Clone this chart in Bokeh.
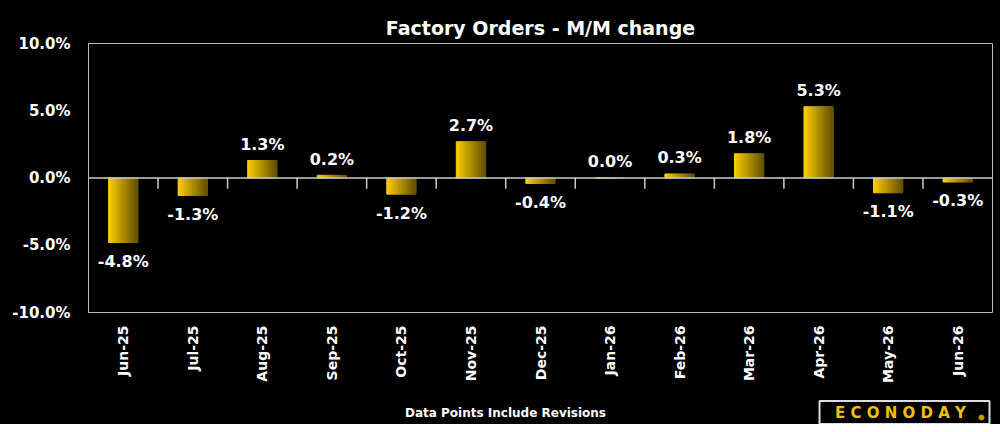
import numpy as np
from bokeh.plotting import figure
from bokeh.layouts import column
from bokeh.models import Range1d, FixedTicker, Span, ColumnDataSource
from bokeh.core.properties import value
from bokeh.embed import file_html
from bokeh.resources import INLINE

months = ["Jun-25","Jul-25","Aug-25","Sep-25","Oct-25","Nov-25","Dec-25","Jan-26","Feb-26","Mar-26","Apr-26","May-26","Jun-26"]
values = [-4.8,-1.3,1.3,0.2,-1.2,2.7,-0.4,0.0,0.3,1.8,5.3,-1.1,-0.3]
yticks = [-10,-5,0,5,10]
footer_text = "Data Points Include Revisions"
logo_text = "E C O N O D A Y"

FONT = "DejaVu Sans"
p = figure(width=1000, height=389, output_backend="svg", toolbar_location=None,
           x_range=Range1d(-0.5, 12.5), y_range=Range1d(-10, 10),
           min_border_left=88, min_border_right=8, min_border_top=43, min_border_bottom=77,
           background_fill_color="black", border_fill_color="black")
p.title.text = "Factory Orders - M/M change"
p.title.align = "center"
p.title.text_color = "white"
p.title.text_font = FONT
p.title.text_font_size = "19px"
p.grid.visible = False
p.outline_line_color = "#bbbbbb"

p.yaxis.ticker = FixedTicker(ticks=yticks)
p.yaxis.major_label_overrides = {t: f"{t:.1f}%" for t in yticks}
p.yaxis.major_label_text_color = "white"
p.yaxis.major_label_text_font = FONT
p.yaxis.major_label_text_font_style = "bold"
p.yaxis.major_label_text_font_size = "15px"
p.yaxis.axis_line_color = "#bbbbbb"
p.yaxis.major_tick_line_color = None
p.yaxis.minor_tick_line_color = None
p.yaxis.major_label_standoff = 12

p.xaxis.ticker = FixedTicker(ticks=list(range(len(months))))
p.xaxis.major_label_overrides = {i: m for i, m in enumerate(months)}
p.xaxis.major_label_orientation = np.pi / 2
p.xaxis.major_label_text_color = "white"
p.xaxis.major_label_text_font = FONT
p.xaxis.major_label_text_font_style = "bold"
p.xaxis.major_label_text_font_size = "14px"
p.xaxis.axis_line_color = None
p.xaxis.major_tick_line_color = None
p.xaxis.minor_tick_line_color = None
p.xaxis.major_label_standoff = 7

# gradient bars
n = 14
bw = 0.42
c0 = np.array([250, 205, 0]); c1 = np.array([105, 85, 0])
xs, tops, cols = [], [], []
for i, v in enumerate(values):
    for k in range(n):
        f = k / (n - 1)
        c = (c0 + (c1 - c0) * f).astype(int)
        xs.append(i - bw / 2 + bw * (k + 0.5) / n)
        tops.append(v)
        cols.append("#%02x%02x%02x" % tuple(c))
p.vbar(x=xs, top=tops, bottom=0, width=bw / n * 1.05, color=cols)

p.add_layout(Span(location=0, dimension="width", line_color="#cccccc", line_width=1.5))
idx = np.arange(len(months) - 1) + 0.5
p.segment(x0=idx, x1=idx, y0=0, y1=-0.8, line_color="#cccccc", line_width=1.5)

lx = list(range(len(values)))
ly = [v + 0.5 if v >= 0 else v - 0.7 for v in values]
anc = ["bottom_center" if v >= 0 else "top_center" for v in values]
src = ColumnDataSource(dict(x=lx, y=ly, t=[f"{v:.1f}%" for v in values], a=anc))
p.text(x="x", y="y", text="t", anchor="a", source=src, text_color="white",
       text_font=value(FONT), text_font_style="bold", text_font_size="16px")

# footer strip (frame aligned with the main plot: 88..992 px)
f = figure(width=1000, height=35, output_backend="svg", toolbar_location=None,
           x_range=Range1d(88, 992), y_range=Range1d(0, 35),
           x_axis_location=None, y_axis_location=None,
           min_border_left=88, min_border_right=8, min_border_top=0, min_border_bottom=0,
           background_fill_color="black", border_fill_color="black")
f.grid.visible = False
f.outline_line_color = None
f.text(x=[505], y=[12], text=[footer_text], anchor="center", text_color="white",
       text_font=value(FONT), text_font_style="bold", text_font_size="12px")
f.rect(x=[904], y=[12], width=170, height=23, fill_color="black",
       line_color="#dddddd", line_width=2)
f.text(x=[900], y=[12], text=[logo_text], anchor="center", text_color="#f0c000",
       text_font=value(FONT), text_font_style="bold", text_font_size="15px")
f.scatter(x=[981], y=[7], size=5, color="#c89a00")

open("out.html", "w").write(file_html(column(p, f, spacing=0, background="black"), INLINE))
